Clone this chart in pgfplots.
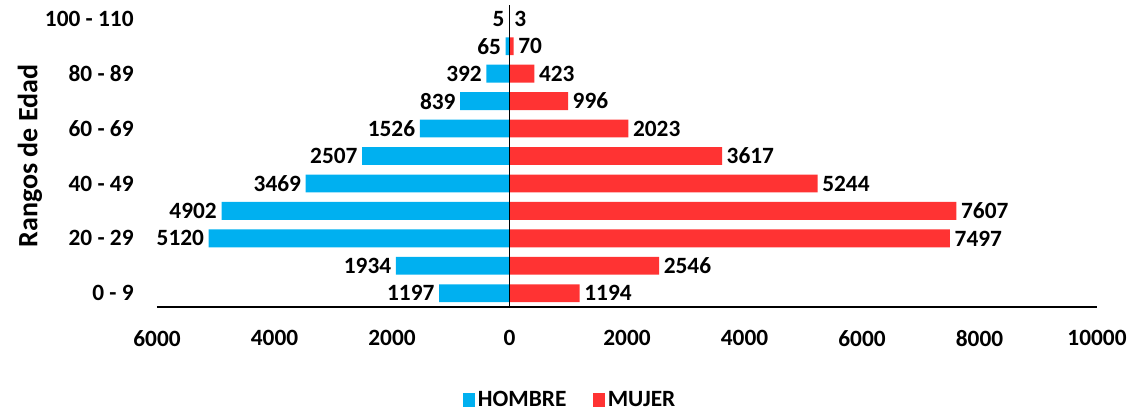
\documentclass[border=0pt]{standalone}
\usepackage{pgfplots}
\pgfplotsset{compat=1.18}
\usepackage{fontspec}
\setmainfont{Carlito}
\definecolor{hblue}{RGB}{0,176,240}
\definecolor{mred}{RGB}{255,51,51}
\newcommand{\cf}{\bfseries\fontsize{17.5}{20}\selectfont}
\begin{document}
\begin{tikzpicture}[x=1pt,y=1pt]
\useasboundingbox (-117.75,-81) rectangle (732.75,230.25);
\begin{axis}[
  at={(0,0)}, anchor=south west,
  scale only axis, width=705pt, height=226.5pt,
  xmin=-6000, xmax=10000, ymin=-0.5, ymax=10.5,
  xbar, bar shift=0pt, bar width=0.65,
  font=\cf,
  scaled x ticks=false,
  xtick={-6000,-4000,...,10000},
  xticklabels={6000,4000,2000,0,2000,4000,6000,8000,10000},
  ytick={0,2,...,10},
  yticklabels={0 - 9,20 - 29,40 - 49,60 - 69,80 - 89,100 - 110},
  major tick length=0pt,
  tick style={draw=none},
  axis x line*=bottom, axis y line*=left,
  y axis line style={draw=none},
  x axis line style={-, line width=1pt, black},
  xticklabel style={font=\cf, yshift=-14pt},
  yticklabel style={font=\cf, xshift=-14pt},
  every axis y label/.style={at={(rel axis cs:0,0.5)}, xshift=-95.25pt, rotate=90, anchor=center, font=\bfseries\fontsize{21}{24}\selectfont},
  ylabel={Rangos de Edad},
  point meta=explicit,
  nodes near coords={\pgfmathprintnumber[assume math mode=true, 1000 sep={}]{\pgfplotspointmeta}},
  nodes near coords style={font=\cf, black},
  legend style={at={(rel axis cs:0.44,-0.308)}, anchor=center, draw=none, fill=none, font=\cf,
    legend columns=2, /tikz/every even column/.append style={column sep=18pt}},
  legend image code/.code={\fill[#1] (0pt,-5pt) rectangle (9pt,5pt);},
]
\addplot[fill=hblue, draw=none, every node near coord/.append style={anchor=east}] coordinates {
  (-1197,0) [1197]
  (-1934,1) [1934]
  (-5120,2) [5120]
  (-4902,3) [4902]
  (-3469,4) [3469]
  (-2507,5) [2507]
  (-1526,6) [1526]
  (-839,7) [839]
  (-392,8) [392]
  (-65,9) [65]
  (-5,10) [5]
};
\addlegendentry{HOMBRE}
\addplot[fill=mred, draw=none, every node near coord/.append style={anchor=west}] coordinates {
  (1194,0) [1194]
  (2546,1) [2546]
  (7497,2) [7497]
  (7607,3) [7607]
  (5244,4) [5244]
  (3617,5) [3617]
  (2023,6) [2023]
  (996,7) [996]
  (423,8) [423]
  (70,9) [70]
  (3,10) [3]
};
\addlegendentry{MUJER}
\draw[black, line width=0.8pt] (axis cs:0,-0.5) -- (axis cs:0,10.5);
\end{axis}
\end{tikzpicture}
\end{document}
